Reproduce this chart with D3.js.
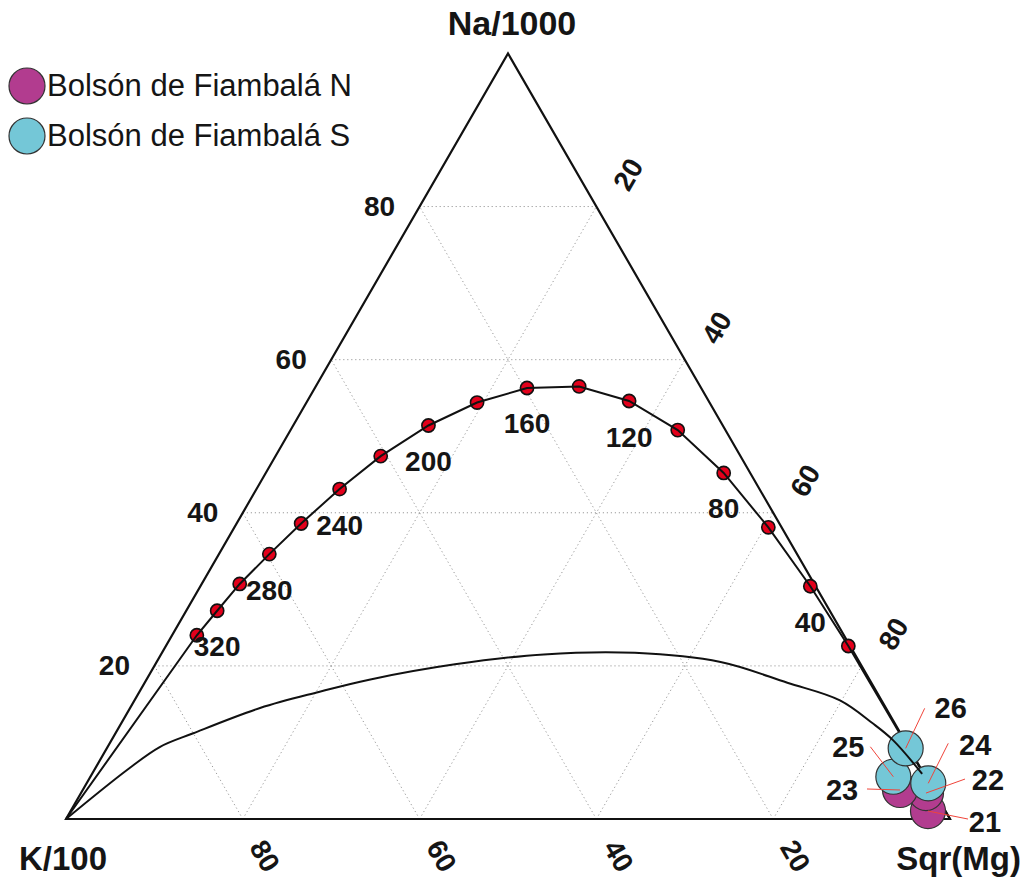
<!DOCTYPE html>
<html>
<head>
<meta charset="utf-8">
<script src="https://cdn.jsdelivr.net/npm/d3@7"></script>
<style>
  html, body { margin: 0; padding: 0; background: #fff; }
  svg { display: block; }
  text { font-family: Arial, "Liberation Sans", Helvetica, sans-serif; fill: #151515; }
</style>
</head>
<body>
<svg id="chart" width="1025" height="883"></svg>
<script>
// Giggenbach Na-K-Mg ternary diagram: Na/1000 (top), K/100 (left), Sqr(Mg) (right), in percent

// Grid / tick values
const gridLevels = [20, 40, 60, 80];
const leftTicks = ["20", "40", "60", "80"];      // Na/1000 along left edge
const rightTicks = ["20", "40", "60", "80"];     // Sqr(Mg) along right edge
const bottomTicks = ["80", "60", "40", "20"];    // K/100 along bottom edge (left to right)

// Full equilibrium line, one marker per 20 °C
const feqTemp = [20, 40, 60, 80, 100, 120, 140, 160, 180, 200, 220, 240, 260, 280, 300, 320, 340];
const feqNa = [22.6, 30.4, 38.1, 45.2, 50.8, 54.6, 56.5, 56.3, 54.4, 51.4, 47.4, 43.1, 38.6, 34.6, 30.7, 27.2, 24.0];
const feqK  = [0.2, 0.6, 1.5, 3.0, 5.4, 9.0, 13.7, 19.7, 26.3, 33.3, 40.7, 47.5, 54.1, 59.7, 65.0, 69.3, 73.2];
const feqMg = [77.2, 69.0, 60.4, 51.8, 43.8, 36.4, 29.8, 24.0, 19.3, 15.3, 11.9, 9.4, 7.3, 5.7, 4.3, 3.5, 2.8];
const feqLabelled = [40, 80, 120, 160, 200, 240, 280, 320];

// Partial equilibration (immature waters) boundary
const pebNa = [0, 6.4, 9.4, 11.2, 14.5, 16.6, 18.2, 20.2, 21.5, 21.7, 20.5, 17.8, 15.5, 12.5, 10.3, 5.9];
const pebK  = [100, 89.9, 84.7, 80.0, 70.8, 63.1, 56.6, 45.9, 35.2, 24.8, 15.7, 9.5, 4.7, 2.5, 1.3, 0.2];
const pebMg = [0, 3.7, 5.9, 8.8, 14.7, 20.3, 25.2, 33.9, 43.3, 53.5, 63.8, 72.7, 79.8, 85.0, 88.4, 93.9];

// Water samples
const sampleId    = ["21", "22", "23", "24", "25", "26"];
const sampleGroup = ["N", "N", "N", "S", "S", "S"];
const sampleNa = [1.04, 3.39, 3.79, 4.66, 5.52, 9.23];
const sampleK  = [1.97, 1.02, 3.76, 0.13, 3.65, 0.40];
const sampleMg = [96.99, 95.59, 92.45, 95.21, 90.83, 90.37];

const groupNames = ["N", "S"];
const groupLabels = ["Bolsón de Fiambalá N", "Bolsón de Fiambalá S"];

// ---- layout ----
const xL = 66, xR = 950, yB = 819;
const side = xR - xL;
const yT = yB - side * Math.sqrt(3) / 2;

const color = d3.scaleOrdinal().domain(groupNames).range(["#b23c8f", "#74c7d7"]);
const xs = d3.scaleLinear().domain([0, 100]).range([xL, xR]);
const ys = d3.scaleLinear().domain([0, 100]).range([yB, yT]);

function proj(na, k, mg) {
  const s = na + k + mg;
  const n = na / s * 100, m = mg / s * 100;
  return [xs(m + n / 2), ys(n)];
}

// per-label placement for sample annotations (label centre and leader start, relative to marker)
const sampleLabelPos = {
  "21": { lx: 57, ly: 11, sx: 40, sy: 8 },
  "22": { lx: 62, ly: -13, sx: 39, sy: -14 },
  "23": { lx: -58, ly: 0, sx: -33, sy: -1 },
  "24": { lx: 47, ly: -38, sx: 20, sy: -40 },
  "25": { lx: -45, ly: -30, sx: -23, sy: -30 },
  "26": { lx: 45, ly: -40, sx: 19, sy: -40 }
};

const svg = d3.select("#chart");
const line = d3.line().x(d => d[0]).y(d => d[1]);
const smooth = d3.line().x(d => d[0]).y(d => d[1]).curve(d3.curveCatmullRom.alpha(0.5));

// grid
const grid = svg.append("g")
  .attr("stroke", "#9a9a9a").attr("stroke-width", 1)
  .attr("stroke-dasharray", "1.2,2.8").attr("fill", "none");
gridLevels.forEach(v => {
  // constant Na
  grid.append("path").attr("d", line([proj(v, 100 - v, 0), proj(v, 0, 100 - v)]));
  // constant Mg
  grid.append("path").attr("d", line([proj(0, 100 - v, v), proj(100 - v, 0, v)]));
  // constant K
  grid.append("path").attr("d", line([proj(0, v, 100 - v), proj(100 - v, v, 0)]));
});

// triangle frame
svg.append("path")
  .attr("d", line([proj(0, 100, 0), proj(100, 0, 0), proj(0, 0, 100)]) + "Z")
  .attr("fill", "none").attr("stroke", "#111").attr("stroke-width", 2.2)
  .attr("stroke-linejoin", "miter");

// tick labels
const tickFont = 28;
leftTicks.forEach(t => {
  const v = +t;
  const p = proj(v, 100 - v, 0);
  svg.append("text").attr("x", p[0] - 40).attr("y", p[1])
    .attr("text-anchor", "middle").attr("dominant-baseline", "central")
    .attr("font-size", tickFont).attr("font-weight", "bold").text(t);
});
rightTicks.forEach(t => {
  const v = +t;
  const p = proj(100 - v, 0, v);
  const cx = p[0] + 32, cy = p[1] - 32;
  svg.append("text").attr("x", cx).attr("y", cy)
    .attr("transform", `rotate(-60,${cx},${cy})`)
    .attr("text-anchor", "middle").attr("dominant-baseline", "central")
    .attr("font-size", tickFont).attr("font-weight", "bold").text(t);
});
bottomTicks.forEach(t => {
  const v = +t;
  const p = proj(0, v, 100 - v);
  const cx = p[0] + 22, cy = p[1] + 37;
  svg.append("text").attr("x", cx).attr("y", cy)
    .attr("transform", `rotate(60,${cx},${cy})`)
    .attr("text-anchor", "middle").attr("dominant-baseline", "central")
    .attr("font-size", tickFont).attr("font-weight", "bold").text(t);
});

// vertex titles
svg.append("text").attr("x", 512).attr("y", 35).attr("text-anchor", "middle")
  .attr("font-size", 34).attr("font-weight", "bold").text("Na/1000");
svg.append("text").attr("x", 19).attr("y", 870)
  .attr("font-size", 33).attr("font-weight", "bold").text("K/100");
svg.append("text").attr("x", 1021).attr("y", 870).attr("text-anchor", "end")
  .attr("font-size", 33).attr("font-weight", "bold").text("Sqr(Mg)");

// full equilibrium markers and line
const feq = feqTemp.map((t, i) => ({ t, p: proj(feqNa[i], feqK[i], feqMg[i]) }));
svg.append("g").selectAll("circle").data(feq).join("circle")
  .attr("cx", d => d.p[0]).attr("cy", d => d.p[1]).attr("r", 6.6)
  .attr("fill", "#e3001b").attr("stroke", "#111").attr("stroke-width", 1.6);

const feqPath = [proj(0, 0, 100)].concat(feq.map(d => d.p)).concat([proj(0, 100, 0)]);
svg.append("path").attr("d", line(feqPath))
  .attr("fill", "none").attr("stroke", "#111").attr("stroke-width", 2);

svg.append("g").selectAll("text").data(feq.filter(d => feqLabelled.includes(d.t))).join("text")
  .attr("x", d => d.p[0]).attr("y", d => d.p[1] + 36)
  .attr("text-anchor", "middle").attr("dominant-baseline", "central")
  .attr("font-size", 28).attr("font-weight", "bold").text(d => d.t);

// samples
const samples = sampleId.map((id, i) => ({
  id, g: sampleGroup[i], p: proj(sampleNa[i], sampleK[i], sampleMg[i])
}));
svg.append("g").selectAll("circle").data(samples).join("circle")
  .attr("cx", d => d.p[0]).attr("cy", d => d.p[1]).attr("r", 17.5)
  .attr("fill", d => color(d.g)).attr("stroke", "#333").attr("stroke-width", 1.2);

// partial equilibration line
const pebPath = pebNa.map((n, i) => proj(n, pebK[i], pebMg[i]));
svg.append("path").attr("d", smooth(pebPath))
  .attr("fill", "none").attr("stroke", "#111").attr("stroke-width", 2);

// sample leaders and numbers
const ann = svg.append("g");
samples.forEach(d => {
  const o = sampleLabelPos[d.id];
  ann.append("line")
    .attr("x1", d.p[0] + o.sx).attr("y1", d.p[1] + o.sy)
    .attr("x2", d.p[0]).attr("y2", d.p[1])
    .attr("stroke", "#f0443a").attr("stroke-width", 1);
  ann.append("text").attr("x", d.p[0] + o.lx).attr("y", d.p[1] + o.ly)
    .attr("text-anchor", "middle").attr("dominant-baseline", "central")
    .attr("font-size", 29).attr("font-weight", "bold").text(d.id);
});

// legend
const legend = svg.append("g");
groupNames.forEach((g, i) => {
  const cy = 86 + i * 50;
  legend.append("circle").attr("cx", 27).attr("cy", cy).attr("r", 18)
    .attr("fill", color(g)).attr("stroke", "#333").attr("stroke-width", 1.2);
  legend.append("text").attr("x", 47).attr("y", cy + 10)
    .attr("font-size", 31).text(groupLabels[i]);
});
</script>
</body>
</html>
